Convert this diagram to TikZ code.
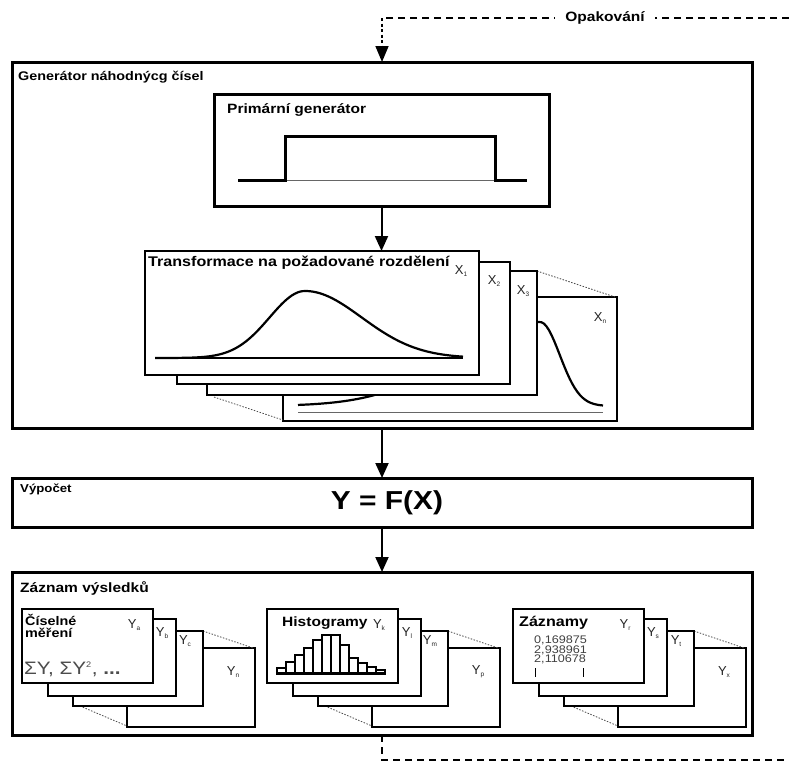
\documentclass[tikz,border=0pt]{standalone}
\usepackage{fontspec}
\setmainfont{Liberation Sans}
\newfontfamily\wfont[FakeStretch=1.15]{Liberation Sans}
\usetikzlibrary{arrows.meta}
\newcommand\fs[1]{\fontsize{#1}{#1}\selectfont}
\newcommand\sub[1]{\raisebox{-2pt}{\fs{6.5}#1}}
\tikzset{
  bigbox/.style={draw, line width=3, fill=white, anchor=north west, inner sep=0pt, outer sep=0pt},
  card/.style={draw, line width=2.8, fill=white},
  cardn/.style={draw, line width=2.2, fill=white},
  lab/.style={anchor=north west, inner sep=0pt, font=\wfont\bfseries\fs{12.5}},
  arr/.style={line width=2, -{Triangle[width=13,length=15]}},
  dashline/.style={line width=2.4, dash pattern=on 7 off 5},
  dotline/.style={line width=0.8, dash pattern=on 1.5 off 1.5, black!70},
  curve/.style={line width=2.2, line join=round},
  ylab/.style={inner sep=0pt, font=\fs{13}, black!85},
}
\newcommand\cardstack[5]{%
  \begin{scope}[shift={(#1,609)}]
    \draw[cardn] (105,39) rectangle (233,118);
    \draw[dotline] (181,22) -- (231,39);
    \draw[dotline] (58,97) -- (105,117);
    \draw[card] (51,22) rectangle (181,97);
    \draw[card] (26,10) rectangle (154,87);
    \draw[card] (0,0) rectangle (131,74);
    \node[ylab] at (112,16) {Y\sub{#2}};
    \node[ylab] at (140,24) {Y\sub{#3}};
    \node[ylab] at (163,32) {Y\sub{#4}};
    \node[ylab] at (211,63) {Y\sub{#5}};
  \end{scope}}
\begin{document}
\begin{tikzpicture}[x=1pt,y=-1pt]
\useasboundingbox[fill=white] (0,0) rectangle (789,769);

% main boxes
\node[bigbox, minimum width=740, minimum height=366] (gen) at (12,62) {};
\node[bigbox, minimum width=740, minimum height=49] (calc) at (12,478) {};
\node[bigbox, minimum width=740, minimum height=163] (rec) at (12,572) {};
\node[lab] (genlab) at (18,71) {Generátor náhodnýcg čísel};
\node[lab, font=\wfont\bfseries\fs{11.5}] (calclab) at (20,484) {Výpočet};
\node[font=\wfont\bfseries\fs{26}, inner sep=0pt] (fx) at (387,503) {Y = F(X)};
\node[lab, font=\wfont\bfseries\fs{13.5}] (reclab) at (20,581) {Záznam výsledků};

% primary generator
\node[bigbox, minimum width=335, minimum height=112] (prim) at (214,94) {};
\node[lab, font=\wfont\bfseries\fs{13.5}] (primlab) at (227,103) {Primární generátor};
\draw[thin, black!60] (285,180) -- (495,180);
\draw[line width=3, line join=miter] (238,180) -- (285,180) -- (285,136) -- (495,136) -- (495,180) -- (527,180);

% transformation stack
\draw[cardn] (283,297) rectangle (617,421);
\draw[line width=1, black!60] (298,412) -- (603,412);
\draw[curve] plot[domain=298:603, samples=120] (\x, {406-84*exp(-((\x-540)/(\x<540?116:28))^2)});
\node[ylab] (xn) at (600,318) {X\sub{n}};
\draw[dotline] (537,271) -- (615,297);
\draw[dotline] (214,397) -- (283,420);
\draw[card] (207,271) rectangle (537,395);
\node[ylab] (x3) at (523,291) {X\sub{3}};
\draw[card] (177,262) rectangle (510,384);
\node[ylab] (x2) at (494,281) {X\sub{2}};
\node[card, anchor=north west, minimum width=334, minimum height=124, inner sep=0pt, outer sep=0pt] (tr1) at (145,251) {};
\node[lab, font=\wfont\bfseries\fs{14}] (trlab) at (148,256) {Transformace na požadované rozdělení};
\node[ylab] (x1) at (461,271) {X\sub{1}};
\draw[line width=2] (155,358) -- (463,358);
\draw[curve] plot[domain=155:463, samples=120] (\x, {358-67*exp(-((\x-305)/(\x<305?50:80))^2)});

% result stacks
\cardstack{22}{a}{b}{c}{n}
\cardstack{267}{k}{l}{m}{p}
\cardstack{513}{r}{s}{t}{x}

\begin{scope}[shift={(22,609)}]
  \node[lab, align=left, font=\wfont\bfseries\fs{12.5}] (cis) at (3,5) {Číselné\\měření};
  \node[anchor=west, inner sep=0pt, font=\wfont\fs{18}, black!70] (sig) at (2,60) {ΣY,\ ΣY\textsuperscript{\fs{8}2},\ \textbf{...}};
\end{scope}
\begin{scope}[shift={(267,609)}]
  \node[anchor=west, inner sep=0pt, font=\wfont\bfseries\fs{13.5}] (hist) at (15,14) {Histogramy};
  \foreach \h [count=\i from 0] in {5,11,18,25,33,38,38,28,15,10,6,3}
    \draw[line width=1.6] (10+9*\i,64) rectangle ++(9,-\h);
  \draw[line width=3] (9,64) -- (119,64);
\end{scope}
\begin{scope}[shift={(513,609)}]
  \node[anchor=west, inner sep=0pt, font=\wfont\bfseries\fs{14}] (zazn) at (6,14) {Záznamy};
  \node[anchor=north west, inner sep=0pt, align=left, font=\wfont\fs{11}, black!75] (nums) at (21,27) {0,169875\\[-1.5pt]2,938961\\[-1.5pt]2,110678};
  \draw[line width=0.9] (22,59) -- (22,68);
  \draw[line width=0.9] (70,59) -- (70,68);
\end{scope}

% connectors
\draw[arr] (prim.south) -- (prim.south |- tr1.north);
\draw[arr] (gen.south) -- (calc.north);
\draw[arr] (calc.south) -- (rec.north);

% repetition loop
\coordinate (loopin) at (382,18);
\coordinate (loopR) at (789,18);
\coordinate (loopdown) at (382,760);
\coordinate (loopBR) at (789,760);
\draw[dashline] (loopR) -- (loopin);
\node[fill=white, inner xsep=10pt, inner ysep=2pt, font=\wfont\bfseries\fs{13.5}] (opak) at (605,18) {Opakování};
\draw[line width=1.6, dash pattern=on 3 off 2.5, -{Triangle[width=13,length=16]}] (loopin) -- (gen.north);
\draw[dashline] (rec.south) -- (loopdown) -- (loopBR);
\end{tikzpicture}
\end{document}
